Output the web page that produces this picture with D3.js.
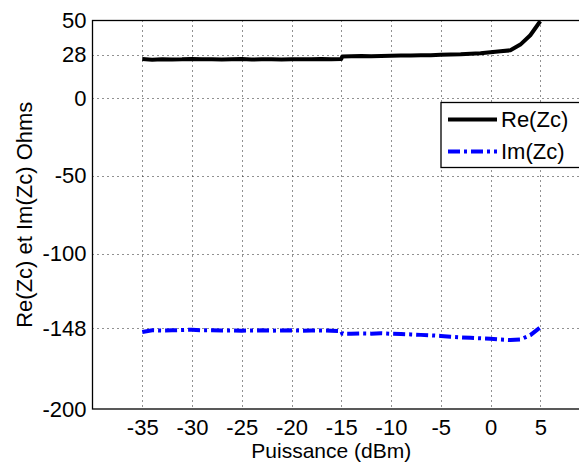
<!DOCTYPE html>
<html>
<head>
<meta charset="utf-8">
<script src="https://cdn.jsdelivr.net/npm/d3@7"></script>
<style>
  html, body { margin: 0; padding: 0; background: #fff; }
  svg { display: block; }
  text { font-family: Arial, "Liberation Sans", sans-serif; fill: #000; }
</style>
</head>
<body>
<svg id="chart" width="579" height="465"></svg>
<script>
// ---- data ----
const power = [-35,-34,-33,-32,-31,-30,-29,-28,-27,-26,-25,-24,-23,-22,-21,-20,-19,-18,-17,-16,-15,-14.9,-14,-13,-12,-11,-10,-9,-8,-7,-6,-5,-4,-3,-2,-1,0,1,2,3,4,5];
const reZc = [25.2,24.8,25.1,24.9,25.0,25.3,25.0,25.1,24.9,25.0,25.2,24.9,25.0,25.1,24.9,25.0,25.1,25.0,25.2,25.1,25.3,26.9,27.0,27.1,27.0,27.2,27.3,27.4,27.4,27.6,27.7,28.0,28.2,28.3,28.6,29.0,29.6,30.2,30.8,34.5,40.5,49.5];
const imZc = [-150.5,-149.3,-149.5,-149.4,-149.2,-149.0,-149.4,-149.3,-149.5,-149.4,-149.6,-149.5,-149.4,-149.6,-149.5,-149.4,-149.6,-149.5,-149.5,-149.6,-149.8,-151.5,-151.6,-151.4,-151.5,-151.3,-151.6,-151.8,-152.0,-152.3,-152.6,-153.0,-153.5,-153.9,-154.2,-154.5,-154.8,-155.3,-155.6,-155.2,-152.5,-147.5];
const xTicks = [-35,-30,-25,-20,-15,-10,-5,0,5];
const yTicks = [50,28,0,-50,-100,-148,-200];
const seriesNames = ["Re(Zc)", "Im(Zc)"];
const xLabel = "Puissance (dBm)";
const yLabel = "Re(Zc) et Im(Zc) Ohms";

// ---- layout ----
const pLeft = 92.5, pTop = 20.5, pBottom = 409;
const x = d3.scaleLinear().domain([-40, 10]).range([pLeft, pLeft + 50 * 9.95]);
const y = d3.scaleLinear().domain([-200, 50]).range([pBottom, pTop]);
const pRight = x(10);

const svg = d3.select("#chart");

svg.append("defs").append("clipPath").attr("id", "clip")
  .append("rect").attr("x", pLeft).attr("y", pTop).attr("width", pRight - pLeft).attr("height", pBottom - pTop);

// grid
const grid = svg.append("g").attr("stroke", "#222").attr("stroke-width", 1).attr("stroke-dasharray", "1,4");
grid.selectAll("line.gx").data(xTicks).join("line")
  .attr("x1", d => Math.round(x(d)) + 0.5).attr("x2", d => Math.round(x(d)) + 0.5)
  .attr("y1", pTop).attr("y2", pBottom);
grid.selectAll("line.gy").data(yTicks.filter(d => d !== 50 && d !== -200)).join("line")
  .attr("y1", d => Math.round(y(d)) + 0.5).attr("y2", d => Math.round(y(d)) + 0.5)
  .attr("x1", pLeft).attr("x2", pRight);

// axes
const fmt = d => (d < 0 ? "-" + Math.abs(d) : String(d));
const xAxis = d3.axisBottom(x).tickValues(xTicks).tickSize(0).tickPadding(10).tickFormat(fmt);
const yAxis = d3.axisLeft(y).tickValues(yTicks).tickSize(0).tickPadding(6).tickFormat(fmt);
const gx = svg.append("g").attr("transform", `translate(0,${pBottom})`).call(xAxis);
const gy = svg.append("g").attr("transform", `translate(${pLeft},0)`).call(yAxis);
[gx, gy].forEach(g => {
  g.select(".domain").remove();
  g.selectAll("text").style("font-size", "22px").style("font-family", "Arial, 'Liberation Sans', sans-serif");
});

// box
svg.append("rect").attr("x", pLeft).attr("y", pTop).attr("width", pRight - pLeft).attr("height", pBottom - pTop)
  .attr("fill", "none").attr("stroke", "#000").attr("stroke-width", 1.3);

// lines
const lineGen = d3.line().x((d, i) => x(power[i])).y(d => y(d));
const plot = svg.append("g").attr("clip-path", "url(#clip)");
plot.append("path").datum(reZc).attr("d", lineGen)
  .attr("fill", "none").attr("stroke", "#000").attr("stroke-width", 4).attr("stroke-linejoin", "round");
plot.append("path").datum(imZc).attr("d", lineGen)
  .attr("fill", "none").attr("stroke", "#0000ff").attr("stroke-width", 4)
  .attr("stroke-dasharray", "12,4,3,4");

// labels
svg.append("text").attr("x", (pLeft + pRight) / 2 - 10).attr("y", 458).attr("text-anchor", "middle")
  .style("font-size", "21px").text(xLabel);
svg.append("text").attr("transform", `translate(32,${(pTop + pBottom) / 2}) rotate(-90)`)
  .attr("text-anchor", "middle").style("font-size", "22px").text(yLabel);

// legend
const lg = svg.append("g");
lg.append("rect").attr("x", 441).attr("y", 102.5).attr("width", 140).attr("height", 65)
  .attr("fill", "#fff").attr("stroke", "#000").attr("stroke-width", 1.3);
const legY = [119.5, 151.5];
lg.append("line").attr("x1", 448).attr("x2", 497).attr("y1", legY[0]).attr("y2", legY[0])
  .attr("stroke", "#000").attr("stroke-width", 4);
lg.append("line").attr("x1", 448).attr("x2", 497).attr("y1", legY[1]).attr("y2", legY[1])
  .attr("stroke", "#0000ff").attr("stroke-width", 4).attr("stroke-dasharray", "12,4,3,4");
lg.selectAll("text.lt").data(seriesNames).join("text")
  .attr("x", 501).attr("y", (d, i) => legY[i]).attr("dy", "0.36em")
  .style("font-size", "22px").text(d => d);
</script>
</body>
</html>
